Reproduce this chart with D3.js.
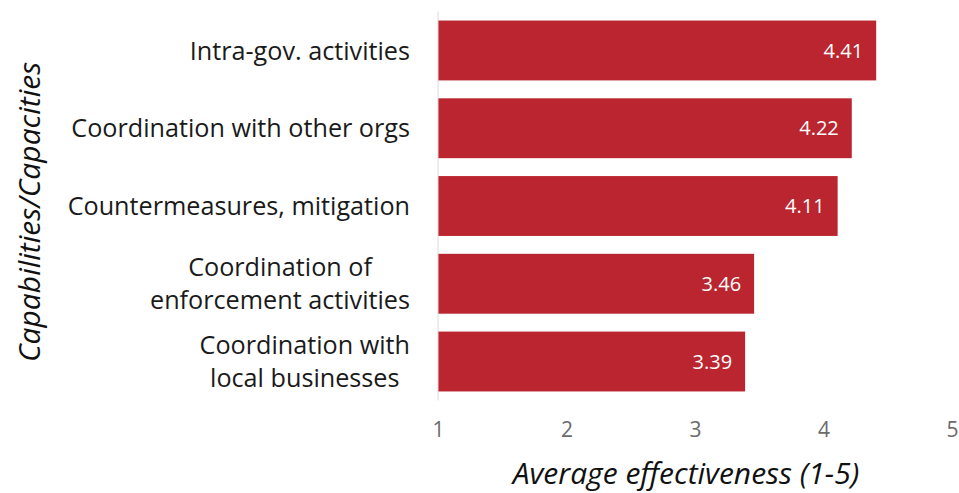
<!DOCTYPE html>
<html>
<head>
<meta charset="utf-8">
<script src="https://cdn.jsdelivr.net/npm/d3@7"></script>
<style>
  html, body { margin: 0; padding: 0; background: #fff; }
  svg { display: block; font-family: "Open Sans", "Noto Sans", sans-serif; }
</style>
</head>
<body>
<svg id="chart" width="959" height="493"></svg>
<script>
// Capability categories (multi-line labels split on "\n")
const categories = [
  "Intra-gov. activities",
  "Coordination with other orgs",
  "Countermeasures, mitigation",
  "Coordination of\nenforcement activities",
  "Coordination with\nlocal businesses"
];
const scores = [4.41, 4.22, 4.11, 3.46, 3.39];
const tickValues = [1, 2, 3, 4, 5];

const svg = d3.select("#chart");
const barColor = "#ba252f";

const x = d3.scaleLinear().domain([1, 5]).range([438, 952]);
const y = d3.scaleBand().domain(categories).range([11.6, 400.4])
  .paddingInner(0.23).paddingOuter(0.115);

// Bars
svg.append("g").selectAll("rect")
  .data(categories)
  .join("rect")
  .attr("x", x(1))
  .attr("y", d => y(d))
  .attr("width", (d, i) => x(scores[i]) - x(1))
  .attr("height", y.bandwidth())
  .attr("fill", barColor);

// Value labels inside bar ends
svg.append("g").selectAll("text")
  .data(categories)
  .join("text")
  .attr("x", (d, i) => x(scores[i]) - 13)
  .attr("y", d => y(d) + y.bandwidth() / 2)
  .attr("dy", "0.36em")
  .attr("text-anchor", "end")
  .attr("fill", "#fff")
  .attr("font-size", 20)
  .text((d, i) => scores[i].toFixed(2));

// Vertical baseline
svg.append("line")
  .attr("x1", x(1)).attr("x2", x(1))
  .attr("y1", y.range()[0]).attr("y2", y.range()[1])
  .attr("stroke", "#d9d9d9").attr("stroke-width", 1);

// Category labels, right block, lines centered within block
const lineH = 33;
categories.forEach(c => {
  const lines = c.split("\n");
  const g = svg.append("text")
    .attr("font-size", 25.2)
    .attr("fill", "#1a1a1a");
  const cy = y(c) + y.bandwidth() / 2;
  lines.forEach((ln, k) => {
    g.append("tspan").text(ln)
      .attr("y", cy + (k - (lines.length - 1) / 2) * lineH)
      .attr("dy", "0.36em");
  });
  const tspans = g.selectAll("tspan").nodes();
  const widths = tspans.map(t => t.getComputedTextLength());
  const maxW = d3.max(widths);
  const right = 410;
  const center = right - maxW / 2;
  tspans.forEach(t => {
    d3.select(t).attr("x", center).attr("text-anchor", "middle");
  });
});

// X axis tick labels
const xAxis = d3.axisBottom(x).tickValues(tickValues).tickSize(0).tickFormat(d3.format("d"));
const gx = svg.append("g").attr("transform", "translate(0,419)").call(xAxis);
gx.select(".domain").remove();
gx.selectAll("text")
  .attr("font-size", 21)
  .attr("fill", "#6b6b6b")
  .attr("font-family", "\"Open Sans\", \"Noto Sans\", sans-serif");

// Axis titles
svg.append("text")
  .attr("x", 686).attr("y", 484)
  .attr("text-anchor", "middle")
  .attr("font-size", 30)
  .attr("font-style", "italic")
  .attr("fill", "#111")
  .text("Average effectiveness (1-5)");

svg.append("text")
  .attr("transform", "translate(29,212) rotate(-90)")
  .attr("dy", "0.36em")
  .attr("text-anchor", "middle")
  .attr("font-size", 30)
  .attr("font-style", "italic")
  .attr("fill", "#111")
  .text("Capabilities/Capacities");
</script>
</body>
</html>
